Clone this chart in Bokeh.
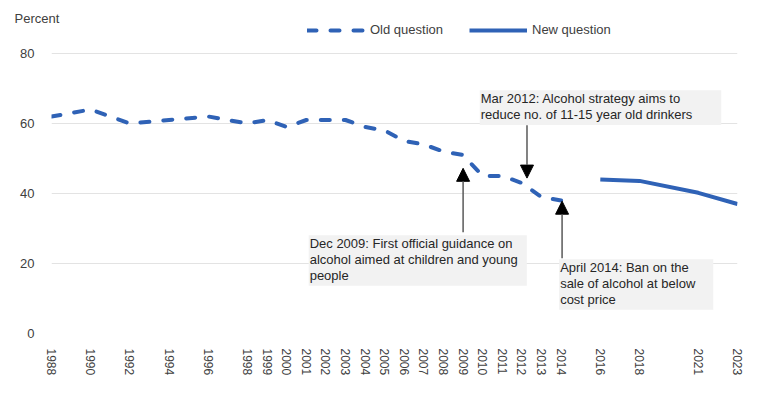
from bokeh.plotting import figure
from bokeh.models import (ColumnDataSource, FixedTicker, Legend, LegendItem, Label,
                          Arrow, NormalHead, Range1d)
from bokeh.embed import file_html
from bokeh.resources import INLINE

# ---- data ----
old_years = [1988, 1990, 1992, 1994, 1996, 1998, 1999, 2000, 2001, 2002, 2003,
             2004, 2005, 2006, 2007, 2008, 2009, 2010, 2011, 2012, 2013, 2014]
old_values = [62, 64, 60, 61, 62, 60, 61, 59, 61, 61, 61,
              59, 58, 55, 54, 52, 51, 45, 45, 43, 39, 38]
new_years = [2016, 2018, 2021, 2023]
new_values = [44, 43.6, 40.2, 37]
tick_years = old_years + new_years
y_ticks = [0, 20, 40, 60, 80]

FONT = "Liberation Sans"
BLUE = "#2f62b6"
TXT = "#404040"

p = figure(width=752, height=388, output_backend="svg", toolbar_location=None,
           x_range=Range1d(1988, 2023), y_range=Range1d(0, 88.857),
           min_border_left=51, min_border_right=15, min_border_top=22,
           min_border_bottom=55)
p.outline_line_color = None
p.background_fill_color = "white"
p.border_fill_color = "white"

# "Percent" unit label as the title
p.title.text = "Percent"
p.title.align = "left"
p.title.vertical_align = "top"
p.title.offset = -37
p.title.standoff = -10
p.title.text_font = FONT
p.title.text_font_size = "13px"
p.title.text_font_style = "normal"
p.title.text_color = TXT

old_src = ColumnDataSource(dict(x=old_years, y=old_values))
new_src = ColumnDataSource(dict(x=new_years, y=new_values))
r_old = p.line("x", "y", source=old_src, line_color=BLUE, line_width=4,
               line_dash="9 14", line_cap="round", line_join="round")
r_new = p.line("x", "y", source=new_src, line_color=BLUE, line_width=4,
               line_join="round")

# axes
p.xaxis.ticker = FixedTicker(ticks=tick_years)
p.yaxis.ticker = FixedTicker(ticks=y_ticks)
for ax in (p.xaxis[0], p.yaxis[0]):
    ax.axis_line_color = None
    ax.major_tick_line_color = None
    ax.minor_tick_line_color = None
    ax.major_label_text_font = FONT
    ax.major_label_text_color = TXT
p.xaxis.major_label_orientation = "vertical"
p.xaxis.major_label_text_font_size = "12px"
p.xaxis.major_label_standoff = 9
p.yaxis.major_label_text_font_size = "13px"
p.yaxis.major_label_standoff = 11
p.xgrid.grid_line_color = None
p.ygrid.grid_line_color = "#e3e3e3"
p.ygrid.grid_line_width = 1

# legend
legend = Legend(items=[LegendItem(label="Old question", renderers=[r_old]),
                       LegendItem(label="New question", renderers=[r_new])],
                orientation="horizontal", location=(256, 296),
                glyph_width=58, glyph_height=14, label_height=14,
                label_standoff=5, spacing=26, padding=0, margin=0,
                border_line_color=None, background_fill_alpha=0,
                label_text_font=FONT, label_text_font_size="13px",
                label_text_color=TXT)
p.add_layout(legend)

# annotations
ann_style = dict(text_font=FONT, text_font_size="13px", text_color="#262626",
                 text_align="left", text_baseline="top", text_line_height=1.05,
                 background_fill_color="#f2f2f2")
p.add_layout(Label(x=2009.85, y=69.5,
                   text="Mar 2012: Alcohol strategy aims to\nreduce no. of 11-15 year old drinkers",
                   padding=(1, 29, 1, 3), **ann_style))
p.add_layout(Label(x=2001.12, y=28.1,
                   text="Dec 2009: First  official guidance on\nalcohol aimed at children and young\npeople",
                   padding=(1, 9, 1, 3), **ann_style))
p.add_layout(Label(x=2013.9, y=21.2,
                   text="April 2014: Ban on the\nsale of alcohol at below\ncost price",
                   padding=(1, 18, 1, 3), **ann_style))

def arrow(x, y0, y1):
    p.add_layout(Arrow(end=NormalHead(size=13, fill_color="black", line_color="black"),
                       x_start=x, y_start=y0, x_end=x, y_end=y1,
                       line_color="#595959", line_width=1.5))

arrow(2012.26, 59.5, 44.4)
arrow(2009.0, 28.9, 47.2)
arrow(2014.05, 21.5, 37.8)

open("out.html", "w").write(file_html(p, INLINE))
